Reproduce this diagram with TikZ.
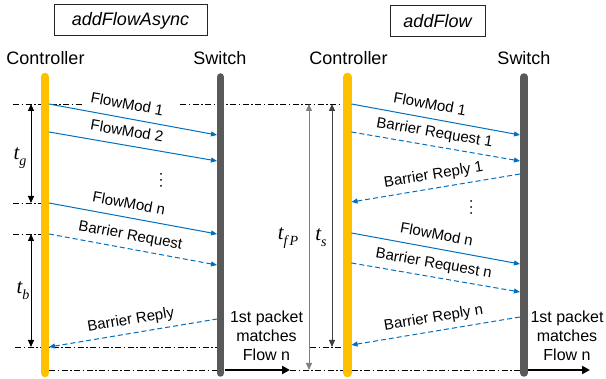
\documentclass[tikz,border=0pt]{standalone}
\usepackage{fontspec}
\setmainfont{Liberation Sans}
\newfontfamily\varfont{Liberation Serif}
\usetikzlibrary{arrows.meta}
\definecolor{ctrlgold}{HTML}{FFC000}
\definecolor{swgray}{HTML}{595959}
\definecolor{msgblue}{HTML}{0070C0}
\definecolor{spangray}{HTML}{808080}
\definecolor{spandark}{HTML}{404040}
% italic time variable with a lowered subscript
\newcommand\timevar[1]{{\varfont\itshape t}\raisebox{-0.28em}{\fontsize{14}{15}\selectfont\varfont\itshape #1}}
\tikzset{
  ctrlline/.style={draw=ctrlgold, line width=8.5pt, line cap=round},
  swline/.style={draw=swgray, line width=7.5pt, line cap=round},
  msg/.style={draw=msgblue, line width=1pt, -{Triangle[length=6pt,width=5pt]}},
  msgback/.style={draw=msgblue, line width=1pt, {Triangle[length=6pt,width=5pt]}-},
  barrier/.style={dash pattern=on 5pt off 3pt},
  msglabel/.style={sloped, anchor=south, font=\fontsize{15}{18}\selectfont,
    inner xsep=0pt, inner ysep=1pt, outer ysep=5pt,
    text height=11pt, text depth=3pt},
  sync/.style={draw=black, line width=0.8pt,
    dash pattern=on 6pt off 2.5pt on 1.5pt off 2.5pt},
  span/.style={line width=1pt,
    {Triangle[length=7pt,width=6pt]}-{Triangle[length=7pt,width=6pt]}},
  spanlabel/.style={font=\fontsize{21}{24}\selectfont, inner sep=1pt},
  packet/.style={draw=black, line width=2pt, -{Triangle[length=8pt,width=8pt]}},
  titlebox/.style={draw=black!85, line width=1pt, minimum height=31pt,
    inner sep=0pt, font=\fontsize{18}{21}\selectfont\itshape},
  actor/.style={anchor=base, font=\fontsize{18}{21}\selectfont},
  matchnote/.style={align=center, font=\fontsize{16}{19}\selectfont},
  ellipsisdot/.style={fill=black},
}
\begin{document}
\begin{tikzpicture}[x=1pt, y=-1pt]
\useasboundingbox (0,0) rectangle (606,379);

% ---------- titles and actors ----------
\node[titlebox, minimum width=153pt] (titleA) at (130.5,20.5) {addFlowAsync};
\node[titlebox, minimum width=95pt]  (titleB) at (437.5,21) {addFlow};
\node[actor] (ctrlA) at (45.5,65) {Controller};
\node[actor] (swA)   at (220,65) {Switch};
\node[actor] (ctrlB) at (348.5,65) {Controller};
\node[actor] (swB)   at (524,65) {Switch};

% ---------- lifeline ends ----------
\coordinate (cAtop) at (45,77);    \coordinate (cAbot) at (45,373);
\coordinate (sAtop) at (220.5,77); \coordinate (sAbot) at (220.5,373);
\coordinate (cBtop) at (347.5,77); \coordinate (cBbot) at (347.5,373);
\coordinate (sBtop) at (524,77);   \coordinate (sBbot) at (524,373);

% ---------- synchronisation guides ----------
\coordinate (g1a) at (13,104);  \coordinate (g1b) at (82,104);
\coordinate (g1c) at (180,104); \coordinate (g1d) at (343,104);
\coordinate (g2a) at (13,203);  \coordinate (g2b) at (41,203);
\coordinate (g3a) at (13,234);  \coordinate (g3b) at (41,234);
\coordinate (g4a) at (15,347);  \coordinate (g4b) at (217,347);
\coordinate (g4c) at (310,347); \coordinate (g4d) at (343,347);
\coordinate (g5a) at (49,370);  \coordinate (g5b) at (217,370);
\coordinate (g5c) at (290,370); \coordinate (g5d) at (343,370);
\coordinate (g5e) at (351.5,370); \coordinate (g5f) at (520,370);
\draw[sync] (g1a) -- (g1b);
\draw[sync] (g1c) -- (g1d);
\draw[sync] (g2a) -- (g2b);
\draw[sync] (g3a) -- (g3b);
\draw[sync] (g4a) -- (g4b);
\draw[sync] (g4c) -- (g4d);
\draw[sync] (g5a) -- (g5b);
\draw[sync] (g5c) -- (g5d);
\draw[sync] (g5e) -- (g5f);

% ---------- lifelines ----------
\draw[ctrlline] (cAtop) -- (cAbot);
\draw[swline]   (sAtop) -- (sAbot);
\draw[ctrlline] (cBtop) -- (cBbot);
\draw[swline]   (sBtop) -- (sBbot);

% ---------- addFlowAsync messages ----------
\coordinate (a1s) at (49,104);  \coordinate (a1e) at (217,135);
\coordinate (a2s) at (49,132);  \coordinate (a2e) at (217,161);
\coordinate (a3s) at (49,203);  \coordinate (a3e) at (217,234);
\coordinate (a4s) at (49,234);  \coordinate (a4e) at (217,265);
\coordinate (a5s) at (49,347);  \coordinate (a5e) at (217,319);
\draw[msg] (a1s) -- node[msglabel, pos=0.45] (la1) {FlowMod 1} (a1e);
\draw[msg] (a2s) -- node[msglabel, pos=0.45] (la2) {FlowMod 2} (a2e);
\draw[msg] (a3s) -- node[msglabel, pos=0.46] (la3) {FlowMod n} (a3e);
\draw[msg, barrier] (a4s) -- node[msglabel, pos=0.47] (la4) {Barrier Request} (a4e);
\draw[msgback, barrier] (a5s) -- node[msglabel, pos=0.5] (la5) {Barrier Reply} (a5e);
% vertical ellipsis between FlowMod 2 and FlowMod n
\foreach \yy in {174,180,186} \fill[ellipsisdot] (161,\yy) circle (1pt);

% ---------- addFlow messages ----------
\coordinate (b1s) at (351.5,104); \coordinate (b1e) at (520,135);
\coordinate (b2s) at (351.5,132); \coordinate (b2e) at (520,161);
\coordinate (b3s) at (351.5,202); \coordinate (b3e) at (520,174);
\coordinate (b4s) at (351.5,233); \coordinate (b4e) at (520,264);
\coordinate (b5s) at (351.5,263); \coordinate (b5e) at (520,292);
\coordinate (b6s) at (351.5,345); \coordinate (b6e) at (520,317);
\draw[msg] (b1s) -- node[msglabel, pos=0.45] (lb1) {FlowMod 1} (b1e);
\draw[msg, barrier] (b2s) -- node[msglabel, pos=0.48] (lb2) {Barrier Request 1} (b2e);
\draw[msgback, barrier] (b3s) -- node[msglabel, pos=0.5] (lb3) {Barrier Reply 1} (b3e);
\draw[msg] (b4s) -- node[msglabel, pos=0.49] (lb4) {FlowMod n} (b4e);
\draw[msg, barrier] (b5s) -- node[msglabel, pos=0.475] (lb5) {Barrier Request n} (b5e);
\draw[msgback, barrier] (b6s) -- node[msglabel, pos=0.5] (lb6) {Barrier Reply n} (b6e);
\foreach \yy in {201,207,213} \fill[ellipsisdot] (471,\yy) circle (1pt);

% ---------- time spans ----------
\coordinate (tg1) at (31,104);  \coordinate (tg2) at (31,203);
\coordinate (tb1) at (31,234);  \coordinate (tb2) at (31,347);
\coordinate (tf1) at (309,104); \coordinate (tf2) at (309,370);
\coordinate (ts1) at (332,104); \coordinate (ts2) at (332,347);
\draw[span, draw=black] (tg1) -- (tg2);
\draw[span, draw=black] (tb1) -- (tb2);
\draw[span, draw=spangray, fill=black] (tf1) -- (tf2);
\draw[span, draw=spandark, fill=black] (ts1) -- (ts2);
\node[spanlabel] (ltg) at (20,158) {\timevar{g}};
\node[spanlabel] (ltb) at (23,291) {\timevar{b}};
\node[spanlabel] (ltf) at (288,238) {\timevar{f\kern2pt P}};
\node[spanlabel] (lts) at (321,238) {\timevar{s}};

% ---------- first matching packet ----------
\node[matchnote] (noteA) at (266.5,335.5) {1st packet\\matches\\Flow n};
\node[matchnote] (noteB) at (567,335.5) {1st packet\\matches\\Flow n};
\coordinate (pA1) at (224.5,370); \coordinate (pA2) at (290,370);
\coordinate (pB1) at (528,370);   \coordinate (pB2) at (590,370);
\draw[packet] (pA1) -- (pA2);
\draw[packet] (pB1) -- (pB2);
\end{tikzpicture}
\end{document}
